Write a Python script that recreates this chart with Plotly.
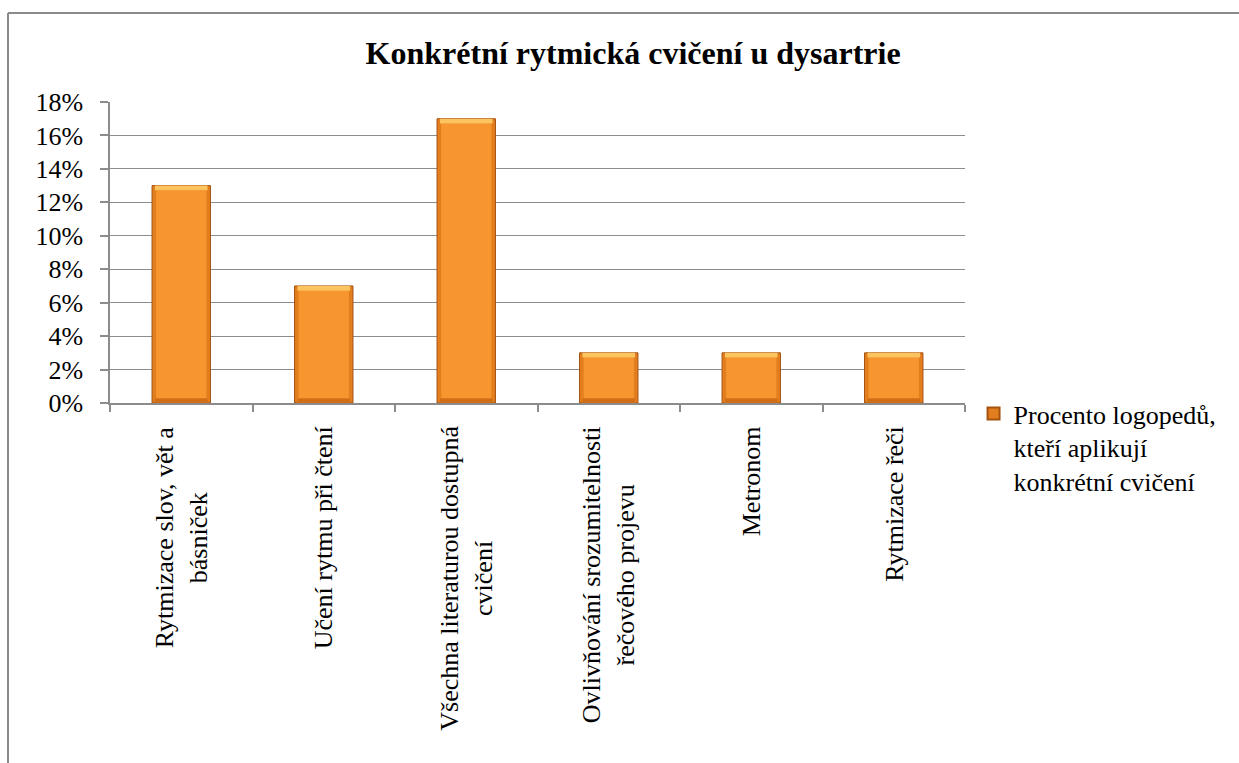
import plotly.graph_objects as go

# Exercise categories (line breaks as laid out under the axis)
categories = [
    "Rytmizace slov, vět a<br>básniček",
    "Učení rytmu při čtení",
    "Všechna literaturou dostupná<br>cvičení",
    "Ovlivňování srozumitelnosti<br>řečového projevu",
    "Metronom",
    "Rytmizace řeči",
]
# Share of speech therapists using each exercise
pct = [0.13, 0.07, 0.17, 0.03, 0.03, 0.03]

series_name = "Procento logopedů,<br>kteří aplikují<br>konkrétní cvičení"
title_text = "<b>Konkrétní rytmická cvičení u dysartrie</b>"

FONT = "Liberation Serif"
FS = 26
BAR_W = 0.41
EDGE = 0.0028   # bevel thickness in data units
GRID = "#8c8c8c"

fig = go.Figure()

# outer body of each bar (darker rim)
fig.add_trace(go.Bar(
    x=categories, y=pct, width=BAR_W,
    marker=dict(color="#E37E1E", line=dict(color="#A5520F", width=1)),
    name=series_name, showlegend=True,
))
# darker bottom bevel
fig.add_trace(go.Bar(
    x=categories, y=[EDGE] * len(pct), base=[0] * len(pct),
    width=BAR_W * 0.9,
    marker=dict(color="#D06E18", line=dict(width=0)),
    showlegend=False, hoverinfo="skip",
))
# inner face, inset on every side to leave a bevel
fig.add_trace(go.Bar(
    x=categories, y=[v - 2 * EDGE for v in pct], base=[EDGE] * len(pct),
    width=BAR_W * 0.86,
    marker=dict(color="#F7952E", line=dict(width=0)),
    showlegend=False, hoverinfo="skip",
))
# light top bevel
fig.add_trace(go.Bar(
    x=categories, y=[EDGE] * len(pct), base=[v - EDGE for v in pct],
    width=BAR_W * 0.9,
    marker=dict(color="#FCC45E", line=dict(width=0)),
    showlegend=False, hoverinfo="skip",
))

fig.update_layout(
    width=1239, height=763,
    margin=dict(l=110, r=274, t=102, b=360),
    paper_bgcolor="white", plot_bgcolor="white",
    barmode="overlay",
    font=dict(family=FONT, size=FS, color="black"),
    title=dict(text=title_text, x=0.511, xanchor="center", y=0.931, yanchor="middle",
               font=dict(family=FONT, size=32, color="black")),
    showlegend=True,
    legend=dict(x=1.01, xanchor="left", y=0.043, yanchor="top", valign="top",
                font=dict(family=FONT, size=FS, color="black"),
                bgcolor="rgba(0,0,0,0)", itemsizing="constant", tracegroupgap=0),
    xaxis=dict(
        showticklabels=False, showgrid=False,
        showline=True, linecolor=GRID, linewidth=1.5,
        ticks="outside", tickson="boundaries", ticklen=7, tickcolor=GRID, tickwidth=1.5,
        fixedrange=True,
    ),
    yaxis=dict(
        range=[0, 0.18], dtick=0.02, tickformat=".0%",
        showgrid=True, gridcolor=GRID, gridwidth=1.3,
        showline=True, linecolor=GRID, linewidth=1.5,
        ticks="outside", ticklen=8, tickcolor=GRID, tickwidth=1.5,
        ticklabelstandoff=12,
        tickfont=dict(family=FONT, size=FS, color="black"),
        zeroline=False, fixedrange=True,
    ),
)

# rotated, centred category labels beneath the axis
for c in categories:
    fig.add_annotation(
        x=c, xref="x", y=0, yref="y", yshift=-21,
        text=c, textangle=-90, showarrow=False,
        xanchor="center", yanchor="top", align="center",
        font=dict(family=FONT, size=FS, color="black"),
    )

# chart frame (top and left edges)
fig.add_shape(type="line", xref="paper", yref="paper",
              x0=-0.1193, x1=1.4, y0=1.2957, y1=1.2957,
              line=dict(color="#8a8a8a", width=2))
fig.add_shape(type="line", xref="paper", yref="paper",
              x0=-0.1193, x1=-0.1193, y0=1.2957, y1=-1.3,
              line=dict(color="#8a8a8a", width=2))

fig.write_html("out.html")
